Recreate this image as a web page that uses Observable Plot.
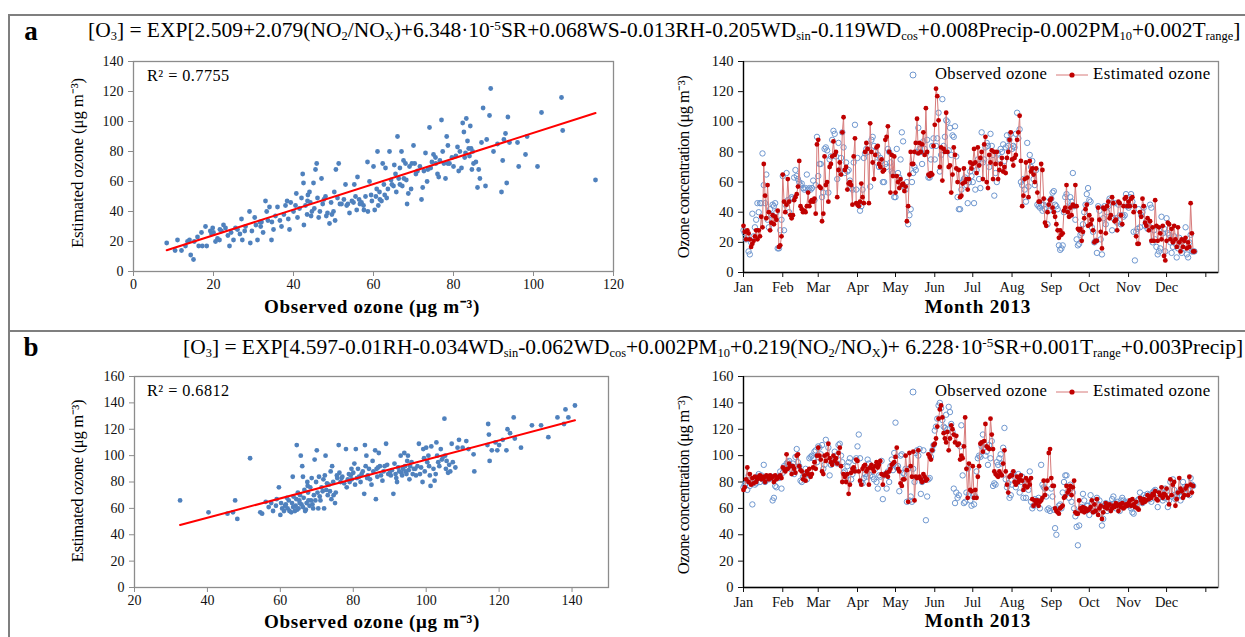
<!DOCTYPE html>
<html><head><meta charset="utf-8">
<script src="https://cdn.jsdelivr.net/npm/d3@7"></script>
<script src="https://cdn.jsdelivr.net/npm/@observablehq/plot@0.6"></script>
<style>
body{margin:0;background:#fff}
#fig{position:relative;width:1245px;height:637px;overflow:hidden;background:#fff;font-family:"Liberation Serif","Times New Roman",serif;color:#000}
.abs{position:absolute;white-space:nowrap;line-height:1}
.ctr{transform:translate(-50%,-50%)}
.rot{transform:translate(-50%,-50%) rotate(-90deg)}
.vc{transform:translateY(-50%)}
.bold{font-weight:bold}
sub{font-size:58%;vertical-align:-0.25em;line-height:0}
sup{font-size:62%;vertical-align:0.55em;line-height:0}
.plot{position:absolute}
.sc g[aria-label="x-axis tick"], .sc g[aria-label="y-axis tick"]{stroke:#8c8c8c}
</style></head>
<body><div id="fig"></div>
<script>
// ---------- data ----------
const monthLabels = ["Jan","Feb","Mar","Apr","May","Jun","Jul","Aug","Sep","Oct","Nov","Dec",""];
const monthStartDays = [0,31,59,90,120,151,181,212,243,273,304,334,365];

// Panel a: daily estimated / observed ozone (Jan 1 .. Dec 23, 2013)
const estA = [
 31,27,22,28,26,22,17,19,21,24,28,22,28,24,37,30,72,51,36,58,40,28,33,38,32,37,35,41,17,18,24,
 65,47,40,45,62,47,38,36,38,48,50,52,57,74,44,42,40,41,40,44,53,44,47,48,47,49,39,85,
 88,57,56,34,39,77,58,60,47,70,72,77,87,78,80,50,68,73,65,93,103,68,70,55,59,60,58,45,77,89,46,
 45,44,47,59,50,46,80,86,82,46,99,80,73,62,78,83,84,72,70,75,67,68,88,90,97,80,53,78,64,77,
 53,64,60,56,62,58,59,54,57,34,44,65,80,72,72,80,86,102,79,86,80,85,93,78,109,80,65,64,66,65,84,
 98,122,117,101,70,83,61,82,80,106,80,70,71,53,65,83,78,69,60,68,50,51,59,69,60,62,55,62,73,69,
 72,82,73,66,83,71,76,80,62,85,90,60,56,78,73,81,62,80,72,80,62,68,72,76,67,70,66,76,80,88,93,
 75,71,76,78,88,93,104,74,44,51,62,73,63,50,74,67,69,65,60,69,53,47,47,72,68,49,33,31,40,45,48,
 49,43,40,37,32,28,23,28,25,26,41,43,58,40,37,43,38,45,44,58,44,29,28,29,21,27,36,42,45,31,
 38,32,35,28,20,21,21,43,35,27,16,43,42,26,44,47,36,38,50,46,34,35,28,47,46,38,32,44,49,50,44,
 47,44,49,50,40,44,24,19,19,40,37,49,44,33,31,36,28,34,21,30,21,48,31,21,30,26,22,31,11,8,
 21,33,32,22,29,20,31,22,17,30,20,14,22,17,21,23,16,20,17,46,26,14,14
];
const obsA = [
 28,26,22,25,14,12,20,39,24,30,35,46,40,46,46,79,58,46,65,35,30,42,38,45,44,46,40,16,16,28,35,
 64,28,45,66,48,40,49,50,49,63,68,64,62,60,58,59,56,55,56,65,55,56,55,56,61,48,58,90,
 64,72,72,50,53,82,83,81,53,75,77,88,94,92,77,62,86,68,76,93,83,66,73,67,68,61,56,55,73,98,55,
 76,45,41,44,55,76,79,82,80,84,57,88,90,84,80,73,78,70,76,74,60,60,72,70,82,80,73,67,66,50,
 50,82,66,63,75,93,87,57,55,60,32,38,42,60,66,70,68,80,96,82,80,72,87,82,79,88,63,63,75,84,89,
 75,84,89,106,67,78,115,84,90,101,100,81,96,78,91,90,97,77,50,42,42,55,60,62,63,58,46,60,67,64,
 60,46,55,68,75,62,56,93,73,75,83,86,84,70,92,84,78,51,66,60,79,75,82,80,85,74,83,91,84,88,92,
 82,84,83,92,106,89,95,60,58,62,55,47,86,57,78,70,74,62,58,68,45,44,43,45,41,45,42,47,32,41,45,
 49,53,54,45,44,42,18,15,16,18,40,50,52,47,43,50,47,66,44,35,22,18,19,25,26,32,40,45,52,56,
 48,47,30,27,20,21,13,44,41,22,12,36,44,32,40,44,49,48,28,36,46,36,33,45,38,32,38,37,38,52,44,
 43,50,52,47,27,8,27,29,42,30,38,40,43,31,34,29,31,45,43,20,28,22,17,12,14,16,37,26,29,14,
 36,26,25,20,13,17,24,19,10,16,23,17,13,21,16,30,12,10,20,25,14,14,14
];
// Panel b: daily estimated / observed ozone
const estB = [
 74,76,82,91,80,86,78,83,79,84,80,82,84,85,82,84,83,80,85,84,82,85,83,84,80,85,82,83,84,85,83,
 91,90,88,101,90,94,92,86,92,90,87,100,101,92,89,88,82,85,81,88,86,90,84,86,91,95,90,100,
 106,100,97,88,86,100,96,101,109,98,95,93,100,96,98,94,102,106,92,80,86,84,80,86,71,78,87,90,91,88,97,
 96,88,81,78,90,92,93,88,90,78,91,93,90,88,92,95,91,93,96,86,78,85,86,87,84,88,90,93,94,95,
 99,106,90,88,79,77,82,82,100,89,65,102,92,84,103,66,84,83,104,84,82,80,86,84,81,82,101,99,97,104,108,
 109,113,122,128,135,138,129,117,113,110,118,104,113,123,120,116,110,115,108,109,97,100,98,107,129,90,68,94,74,73,
 92,68,74,68,84,92,109,110,103,111,124,107,106,105,128,116,105,88,86,85,84,88,86,85,94,104,88,78,72,84,85,
 85,88,80,78,84,80,82,85,81,74,77,83,76,81,78,83,67,62,66,64,66,62,65,66,68,81,70,75,81,102,105,
 83,77,77,60,58,57,56,60,61,62,68,69,77,72,74,77,70,76,81,57,56,56,66,60,58,61,57,60,58,59,
 59,61,66,57,63,58,67,55,60,62,52,57,61,64,60,62,63,58,60,62,61,64,62,58,63,61,64,60,61,63,62,
 64,66,62,67,63,61,65,60,59,68,66,64,67,65,66,70,67,69,68,71,70,73,67,66,72,70,76,68,71,70,
 75,68,63,82,70,78,80,62,67,72,83,75,73,68,70,75,77,70,84,78,72,77
];
const obsB = [
 76,78,79,74,85,77,82,63,80,78,79,84,86,80,85,82,93,80,84,83,82,83,84,66,68,77,76,84,83,88,75,
 87,92,90,94,95,96,90,92,94,86,99,105,95,92,81,80,84,85,90,82,86,98,99,100,98,103,104,95,
 107,106,101,108,90,93,112,99,106,85,93,97,96,103,100,94,108,109,100,95,87,88,84,92,95,98,82,86,90,96,98,
 107,116,98,80,79,83,86,84,97,94,85,89,84,82,90,80,75,85,84,96,67,85,86,75,88,80,92,97,89,102,
 125,91,92,73,100,101,87,86,90,65,90,66,69,65,90,80,102,104,100,105,71,80,104,82,51,69,82,83,99,104,108,
 119,122,128,138,140,136,127,122,121,131,120,137,133,124,118,75,64,72,68,70,107,123,85,64,65,72,90,71,66,62,
 71,63,69,88,98,100,99,107,116,106,100,103,93,108,98,111,77,79,78,95,93,98,101,94,106,121,82,76,79,68,70,
 78,87,84,76,80,86,72,80,84,68,76,68,80,74,88,65,60,62,67,64,66,68,60,93,78,76,75,69,59,60,58,
 75,69,59,45,40,59,62,63,60,72,80,85,85,72,68,78,65,72,60,54,46,32,47,59,61,71,66,59,62,62,
 55,70,64,60,58,65,68,63,66,56,47,52,62,64,58,60,63,62,67,69,64,60,65,62,58,66,68,66,63,64,65,
 63,62,60,57,56,62,64,66,67,72,66,64,70,68,69,71,70,67,65,72,73,74,70,61,68,72,70,66,68,75,
 73,61,66,80,69,82,74,67,69,72,70,66,69,80,76,75,72,74,70,83,78,77
];

// Scatter panels: [observed, estimated]
const scatterA = [
 [8.3,19],[10.4,14],[11,21],[12,14],[13,17],[13.5,20],[14,21],[14.3,11],[15,8],[15.2,20],[16,23],[16.3,17],[17,26],[17.2,17],[18,30],[18.3,17],
 [19.5,25],[19.8,29],[20,26],[20.5,20],[21,22],[21.5,21],[22,27],[22.5,31],[23,29],[24,17],[24.4,26],[25,21],[25.5,29],[26,28],[27,35],[27.2,21],
 [28,30],[29,40],[29.2,19],[29.6,27],[30.3,36],[31,21],[31.8,30],[32,33],[32.4,26],[33,47],[33.3,40],[34,43],[34.5,21],[35,28],[35.5,37],[36,43],
 [37,30],[38,44],[38.4,47],[38.7,35],[39,28],[39.3,46],[40,40],[40.7,52],[41,36],[42,49],[42.3,65],[42.5,59],[42.6,31],[43,44],[43.4,38],[43.6,51],
 [44,53],[44.2,46],[44.4,37],[45,59],[45.2,42],[45.5,68],[45.8,72],[46,49],[46.3,36],[47,62],[47.3,45],[48,50],[48.2,37],[48.5,39],[49,32],[49.4,46],
 [50,40],[50.2,53],[50.4,34],[50.6,68],[51.3,72],[51,49],[52,45],[53,58],[53.3,44],[54,39],[55,46],[55.2,58],[55.5,50],[56,63],[56.4,48],[57,46],
 [57.5,44],[58,50],[58.5,73],[58.6,40],[59,60],[59.4,51],[60,70],[60.3,41],[61,80],[61.2,44],[61.5,53],[62,47],[62.3,72],[62.6,58],[63,69],[63.3,49],
 [64,80],[64.4,61],[65,57],[65.2,71],[65.5,65],[65.7,53],[66,90],[66.3,62],[66.6,69],[67,80],[67.2,57],[67.5,74],[68,72],[68.2,61],[68.4,45],[68.7,52],
 [69,70],[69.4,55],[70,84],[70.3,72],[71,67],[72,48],[72.3,56],[73,79],[73.4,60],[74,96],[74.3,69],[75,78],[75.5,76],[76,65],[76.3,63],[77,101],
 [77.3,80],[77.6,72],[78,62],[78.3,90],[78.6,84],[79,72],[80,70],[81,83],[81.3,67],[82,69],[82.3,99],[82.6,93],[83,79],[83.2,102],[83.5,87],[84,77],
 [84.2,97],[84.4,82],[84.6,68],[85,72],[86,56],[86.3,68],[86.6,62],[87,86],[87.4,109],[88,57],[88.3,88],[89,104],[89.3,122],[90,80],[91,85],[92,53],
 [92.3,74],[92.6,88],[93,92],[93.3,59],[93.6,103],[94,86],[96,86],[96.3,70],[98,78],[98.4,90],[101,70],[102,106],[107,116],[107.3,94],[115.5,61],
 [40.5,44],[41.5,42],[43.5,47],[44.6,40],[46.6,40],[47.6,48],[49.6,38],[51.6,45],[52.6,48],[53.6,45],[54.6,47],[56.6,45],[57.6,41],[59.6,47],[60.6,50],[61.6,48],
 [63.6,55],[64.6,58],[66.6,58],[67.6,62],[69.6,72],[70.6,65],[71.6,70],[72.6,67],[73.6,68],[74.6,73],[75.6,72],[76.6,74],[78.6,72],[79.6,76],[80.6,77],[81.6,80],
 [82.8,76],[83.8,82],[84.8,80],[85.6,73],[30.6,31],[31.6,33],[33.6,34],[34.6,33],[36.6,34],[37.6,38],[23.6,24],[21.6,28],[19.2,27],[26.6,25],[27.8,27],[55.8,41],
 [60.8,55],[62.8,51]
];
const scatterB = [
 [32.5,66],[40.3,57],[45.5,56],[47,57],[47.6,66],[48.2,52],[51.7,98],[54.5,57],[55,56],[56,65],[56.8,61],[58,58],[58.8,62],[59.6,76],[60,55],[60.2,64],
 [61,58],[61.3,62],[62,60],[62.3,66],[63,57],[63.2,64],[63.4,84],[63.6,69],[64,58],[64.2,62],[64.4,67],[64.5,108],[65,60],[65.2,66],[65.4,70],[65.6,100],
 [65.8,63],[66,92],[66.2,84],[66.4,68],[66.6,74],[67,59],[67.2,64],[67.4,80],[67.6,72],[68,62],[68.2,76],[68.4,66],[68.6,83],[69,60],[69.2,70],[69.4,97],
 [70,104],[70.2,72],[70.4,60],[70.6,84],[71,66],[71.3,76],[72,60],[72.2,85],[72.4,100],[72.6,74],[73,70],[73.3,78],[74,67],[74.2,92],[74.5,80],[75,64],
 [75.2,72],[75.5,85],[76,108],[76.2,87],[76.5,80],[77,84],[78,105],[78.2,76],[78.5,82],[79,80],[79.3,85],[80,87],[80.3,94],[80.5,78],[80.7,105],[81,83],
 [81.3,90],[82,80],[82.3,86],[83,71],[83.2,108],[83.4,92],[83.6,100],[84,85],[84.3,90],[85,78],[85.3,96],[86,104],[86.2,67],[86.4,90],[86.6,84],[87,102],
 [87.3,92],[88,81],[88.3,88],[89,109],[89.3,93],[90,87],[90.3,85],[91,71],[91.3,94],[92,80],[92.3,91],[93,100],[93.2,87],[93.4,85],[94,102],[94.2,92],
 [94.4,88],[95,100],[95.2,89],[95.4,82],[96,95],[96.3,86],[97,90],[98,109],[98.3,86],[99,80],[99.2,105],[99.4,98],[100,106],[100.3,95],[101,85],[101.2,77],
 [101.4,107],[102,90],[102.3,81],[103,100],[103.3,95],[104,105],[104.3,97],[105,128],[105.2,100],[105.4,90],[106,87],[106.3,93],[107,109],[107.3,95],[108,91],[109,112],
 [110,106],[111,111],[113,101],[113.2,88],[117,124],[117.2,116],[117.4,96],[118,104],[119,110],[120,108],[121,112],[122,104],[122.3,120],[123,117],[124,129],[124.3,113],
 [126,106],[129,123],[131.5,123],[133.5,114],[136,129],[137.8,124],[138.2,135],[139,129],[140.8,138],
 [60.5,60],[61.5,63],[62.5,58],[63.5,61],[64.6,59],[65.3,64],[66.2,61],[66.8,58],[67.7,66],[68.8,63],[69.6,66],[70.8,69],[71.6,73],[72.8,79],[73.6,73],[74.6,70],
 [76.8,83],[77.5,79],[78.8,86],[79.6,82],[81.6,84],[82.6,88],[84.6,82],[85.5,88],[87.6,85],[88.6,92],[89.6,86],[90.6,89],[91.6,86],[92.6,88],[93.6,90],[94.6,86],
 [95.6,92],[96.6,90],[97.6,92],[98.6,91],[99.6,88],[100.6,100],[102.6,86],[103.6,92],[104.6,99],[105.6,96],[106.6,88],[57.5,64],[59,67],[61.8,68],[64.8,72],[67.5,77],
 [69.8,80],[71.8,82],[73.8,88],[75.6,83],[79.5,90],[83.8,83],[86.8,91],[91.8,83],[94.8,96],[97.2,85],[100.8,92],[102.8,110],[108.6,106],[111.6,105],[119.5,104],[116.8,108]
];
// Excel trendlines
const fitA = {intercept: 7.1, slope: 0.853};
const fitB = {intercept: 23.6, slope: 0.733};
const r2A = "R² = 0.7755", r2B = "R² = 0.6812";
const xTitleSc = "Observed ozone (μg m⁻³)", yTitleSc = "Estimated ozone (μg m⁻³)";
const xTitleTs = "Month 2013", yTitleTs = "Ozone concentration (μg m⁻³)";
const legendObs = "Observed ozone", legendEst = "Estimated ozone";

// ---------- drawing ----------
const fig = document.getElementById("fig");
const FONT = '"Liberation Serif","Times New Roman",serif';
const BLUE = "#4F81BD", OBS = "#6f97cf", EST = "#C00000", ESTLINE = "#d77b7b";

function addDiv(html, cls, css){
  const d = document.createElement("div");
  d.className = "abs " + (cls||"");
  d.innerHTML = html;
  Object.assign(d.style, css);
  fig.appendChild(d);
  return d;
}
// fit text to a target width: part by font size (exponent k), rest by letter spacing
function fitW(el, w, k){
  if (k === undefined) k = 0.6;
  const fs = parseFloat(el.style.fontSize);
  const cur = el.offsetWidth;
  el.style.fontSize = (fs * Math.pow(w / cur, k)).toFixed(2) + "px";
  const cur2 = el.offsetWidth;
  const n = el.textContent.length;
  el.style.letterSpacing = ((w - cur2) / n).toFixed(3) + "px";
}

// outer frame
addDiv("", "", {left:"8px", top:"14px", width:"2px", height:"640px", background:"#7f7f7f"});
addDiv("", "", {left:"8px", top:"14px", width:"1240px", height:"2px", background:"#7f7f7f"});
addDiv("", "", {left:"8px", top:"330px", width:"1240px", height:"2px", background:"#7f7f7f"});

addDiv("a", "bold ctr", {left:"31px", top:"31px", fontSize:"27px"});
addDiv("b", "bold ctr", {left:"31px", top:"347px", fontSize:"27px"});

const fA = addDiv('[O<sub>3</sub>] = EXP[2.509+2.079(NO<sub>2</sub>/NO<sub>X</sub>)+6.348·10<sup>-5</sup>SR+0.068WS-0.013RH-0.205WD<sub>sin</sub>-0.119WD<sub>cos</sub>+0.008Precip-0.002PM<sub>10</sub>+0.002T<sub>range</sub>]',
  "vc", {left:"88px", top:"31px", fontSize:"17px"});
fitW(fA, 1152, 1);
const fB = addDiv('[O<sub>3</sub>] = EXP[4.597-0.01RH-0.034WD<sub>sin</sub>-0.062WD<sub>cos</sub>+0.002PM<sub>10</sub>+0.219(NO<sub>2</sub>/NO<sub>X</sub>)+ 6.228·10<sup>-5</sup>SR+0.001T<sub>range</sub>+0.003Precip]',
  "vc", {left:"183px", top:"348px", fontSize:"17px"});
fitW(fB, 1060, 1);

function scatterPlot(pairs, fit, xdom, xticks, ydom, yticks, m){
  const data = pairs.map(([o,e]) => ({o, e}));
  const [x0, x1] = d3.extent(data, d => d.o);
  const fitLine = [x0, x1].map(x => ({o: x, e: fit.intercept + fit.slope * x}));
  return Plot.plot({
    width: 570, height: 270,
    marginLeft: m.l, marginRight: m.r, marginTop: m.t, marginBottom: m.b,
    style: {fontFamily: FONT, fontSize: "14px", color: "#111", background: "none", overflow: "visible"},
    x: {domain: xdom, ticks: xticks, tickSize: 5, tickPadding: 3, label: null},
    y: {domain: ydom, ticks: yticks, tickSize: 5, tickPadding: 5, label: null},
    marks: [
      Plot.frame({stroke: "#8c8c8c", strokeWidth: 1.3}),
      Plot.dot(data, {x: "o", y: "e", r: 2.4, fill: BLUE, stroke: "none"}),
      Plot.line(fitLine, {x: "o", y: "e", stroke: "#FF0000", strokeWidth: 2})
    ]
  });
}

function tsPlot(est, obs, ydom, yticks){
  const e = est.map((v,i) => ({day: i, v}));
  const o = obs.map((v,i) => ({day: i, v}));
  return Plot.plot({
    width: 560, height: 270,
    marginLeft: 73, marginRight: 12, marginTop: 11, marginBottom: 48,
    style: {fontFamily: FONT, fontSize: "14.5px", color: "#111", background: "none", overflow: "visible"},
    x: {domain: [0, 375], ticks: monthStartDays, tickFormat: d => monthLabels[monthStartDays.indexOf(d)], tickSize: 5, tickPadding: 4, label: null},
    y: {domain: ydom, ticks: yticks, tickSize: 5, tickPadding: 5, label: null},
    marks: [
      Plot.frame({stroke: "#8c8c8c", strokeWidth: 1.3}),
      Plot.ruleX([0], {stroke: "#000", strokeWidth: 1.3}),
      Plot.ruleY([ydom[0]], {stroke: "#000", strokeWidth: 1.3}),
      Plot.dot(o, {x: "day", y: "v", r: 2.7, stroke: OBS, fill: "none", strokeWidth: 1}),
      Plot.line(e, {x: "day", y: "v", stroke: ESTLINE, strokeWidth: 1}),
      Plot.dot(e, {x: "day", y: "v", r: 2.4, fill: EST, stroke: "none"})
    ]
  });
}

function place(node, left, top, cls){
  const d = document.createElement("div");
  d.className = "plot " + (cls||"");
  d.style.left = left + "px"; d.style.top = top + "px";
  d.appendChild(node);
  fig.appendChild(d);
}

const t20 = (max) => d3.range(0, max + 1, 20);
place(scatterPlot(scatterA, fitA, [0,120], t20(120), [0,140], t20(140), {l:73, r:17, t:11, b:49}), 60, 50, "sc");
place(tsPlot(estA, obsA, [0,140], t20(140)), 670, 50);
place(scatterPlot(scatterB, fitB, [20,150], d3.range(20,141,20), [0,160], t20(160), {l:74, r:22, t:11, b:48}), 60, 365, "sc");
place(tsPlot(estB, obsB, [0,160], t20(160)), 670, 365);

// titles
function title(txt, x, y, cls, size, w, k){
  const el = addDiv(txt, cls, {left: x+"px", top: y+"px", fontSize: size+"px"});
  if (w) fitW(el, w, k);
  return el;
}
title(xTitleSc, 372, 307, "ctr bold", 16, 216, 0.7);
title(xTitleSc, 372, 622, "ctr bold", 16, 216, 0.7);
title(xTitleTs, 978, 307, "ctr bold", 16, 106, 0.7);
title(xTitleTs, 978, 621, "ctr bold", 16, 106, 0.7);
title(yTitleSc, 78, 163, "rot", 17, 170, 0.25);
title(yTitleSc, 78, 481, "rot", 17, 162, 0.25);
title(yTitleTs, 684, 167, "rot", 17, 182, 0.25);
title(yTitleTs, 684, 485, "rot", 17, 178, 0.25);
title(r2A, 147, 76, "vc", 14, 83, 0.7);
title(r2B, 147, 391, "vc", 14, 83, 0.7);

// legends
function legend(y){
  addDiv(`<svg width="12" height="12"><circle cx="6" cy="6" r="3" fill="none" stroke="${OBS}" stroke-width="1"/></svg>`, "", {left:"907px", top:(y-6)+"px"});
  const a = addDiv(legendObs, "vc", {left:"935px", top:y+"px", fontSize:"15px"}); fitW(a, 112, 0.7);
  addDiv(`<svg width="34" height="12"><line x1="1" y1="6" x2="33" y2="6" stroke="${ESTLINE}" stroke-width="1"/><circle cx="17" cy="6" r="2.6" fill="${EST}"/></svg>`, "", {left:"1055px", top:(y-6)+"px"});
  const b = addDiv(legendEst, "vc", {left:"1093px", top:y+"px", fontSize:"15px"}); fitW(b, 118, 0.7);
}
legend(74);
legend(391);
</script>
</body></html>
